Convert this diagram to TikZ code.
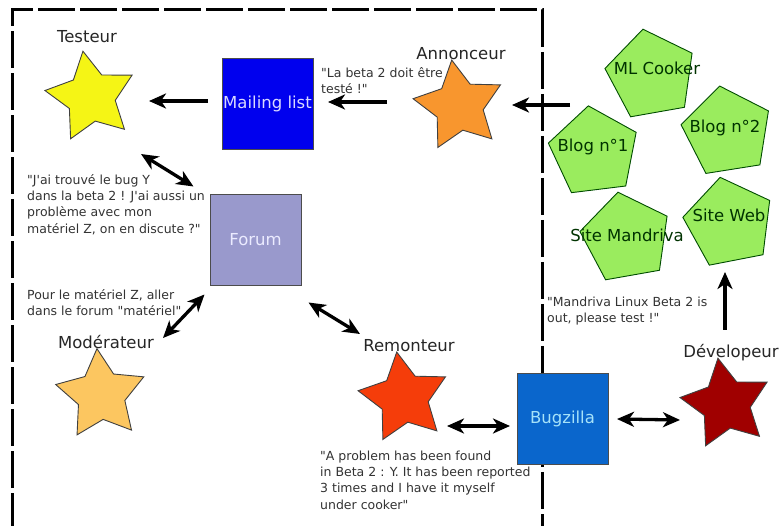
\documentclass[tikz,border=0pt]{standalone}
\usepackage{fontspec}
\setmainfont{DejaVu Sans}[Ligatures=TeXOff]
\usetikzlibrary{shapes.geometric,arrows.meta}
\definecolor{cyellow}{HTML}{F5F515}
\definecolor{corange}{HTML}{F8962E}
\definecolor{cmod}{HTML}{FCC660}
\definecolor{crem}{HTML}{F53D0A}
\definecolor{cdev}{HTML}{A00000}
\definecolor{cgreen}{HTML}{9AEC5E}
\definecolor{cml}{HTML}{0000EE}
\definecolor{cforum}{HTML}{9999CC}
\definecolor{cbug}{HTML}{0A66CC}
\definecolor{cnote}{HTML}{333333}
\begin{document}
\begin{tikzpicture}[x=1pt,y=-1pt,
  starnode/.style={star, star points=5, star point ratio=1.9, inner sep=0pt, minimum size=93pt, draw=black!75, line width=0.9pt},
  penta/.style={regular polygon, regular polygon sides=5, inner sep=0pt, minimum size=93pt, draw=black!70!green, line width=0.9pt, fill=cgreen},
  boxnode/.style={rectangle, minimum size=91pt, inner sep=0pt, draw=black!70, line width=0.8pt, font=\fontsize{16.5}{18}\selectfont},
  big/.style={font=\fontsize{16.5}{18}\selectfont, inner sep=0pt, anchor=base, text=black!85},
  gtext/.style={big, text=black!80!green},
  note/.style={font=\fontsize{12.5}{16.3}\selectfont, inner sep=0pt, anchor=north west, align=left, text=cnote},
  tip/.tip={Stealth[length=17pt,width=15pt,inset=5pt]},
  arr/.style={line width=3.3pt, -tip},
  dbl/.style={line width=3.3pt, tip-tip},
  border/.style={line width=3pt, dash pattern=on 37pt off 5pt}
]
\useasboundingbox (0,0) rectangle (782,526);
\fill[white] (0,0) rectangle (782,526);

% dashed frame
\draw[border] (12,530) -- (12,10) -- (542,10) -- (542,530);

% stars
\node[starnode, fill=cyellow, rotate=10] (testeur) at (91,97) {};
\node[starnode, fill=corange, rotate=9] (ann) at (459,106) {};
\node[starnode, fill=cmod, rotate=5] (mod) at (101,395) {};
\node[starnode, fill=crem, rotate=9] (rem) at (404,398) {};
\node[starnode, fill=cdev, rotate=10] (dev) at (726,404) {};

% pentagons
\node[penta, rotate=10] (mlc) at (651,75) {};
\node[penta, rotate=7] (blog1) at (594,152) {};
\node[penta, rotate=9] (blog2) at (727,132) {};
\node[penta, rotate=11] (web) at (729,223) {};
\node[penta, rotate=10] (mand) at (626,238) {};

% boxes
\node[boxnode, fill=cml, text=blue!15] (ml) at (267.5,104) {Mailing list};
\node[boxnode, fill=cforum, text=white!92!blue] (forum) at (255.5,239.5) {Forum};
\node[boxnode, fill=cbug, text=cyan!35] (bug) at (562.5,419) {Bugzilla};

% labels
\node[big] (ltesteur) at (87,43) {Testeur};
\node[big] (lann) at (461,60) {Annonceur};
\node[big] (lmod) at (106,349) {Modérateur};
\node[big] (lrem) at (409,352) {Remonteur};
\node[big] (ldev) at (731,358) {Dévelopeur};
\node[gtext] (tmlc) at (657,75) {ML Cooker};
\node[gtext] (tblog1) at (593,152) {Blog n°1};
\node[gtext] (tblog2) at (725,133) {Blog n°2};
\node[gtext] (tweb) at (729,222) {Site Web};
\node[gtext] (tmand) at (627,242) {Site Mandriva};

% notes
\node[note] (n1) at (321,67) {"La beta 2 doit être\\testé !"};
\node[note] (n2) at (27,174) {"J'ai trouvé le bug Y\\dans la beta 2 ! J'ai aussi un\\problème avec mon\\matériel Z, on en discute ?"};
\node[note] (n3) at (27,289) {Pour le matériel Z, aller\\dans le forum "matériel"};
\node[note] (n4) at (320,450.5) {"A problem has been found\\in Beta 2 : Y. It has been reported\\3 times and I have it myself\\under cooker"};
\node[note] (n5) at (547,296.5) {"Mandriva Linux Beta 2 is\\out, please test !"};

% connectors
\draw[arr] ([shift={(-59.5,-3)}]ml.center) -- ([shift={(58,4)}]testeur.center);
\draw[arr] ([shift={(-72,-4)}]ann.center) -- ([shift={(60.5,-2)}]ml.center);
\draw[arr] ([shift={(-24,-47)}]blog1.center) -- ([shift={(53,-1)}]ann.center);
\draw[dbl] ([shift={(50,57)}]testeur.center) -- ([shift={(-62,-53)}]forum.center);
\draw[dbl] ([shift={(-51,55)}]forum.center) -- ([shift={(62,-57)}]mod.center);
\draw[dbl] ([shift={(53,63)}]forum.center) -- ([shift={(-44,-64)}]rem.center);
\draw[dbl] ([shift={(43,28)}]rem.center) -- ([shift={(-52.5,7)}]bug.center);
\draw[dbl] ([shift={(54.5,0)}]bug.center) -- ([shift={(-46,16)}]dev.center);
\draw[arr] ([shift={(-1,-74)}]dev.center) -- ([shift={(-4,49)}]web.center);
\end{tikzpicture}
\end{document}
